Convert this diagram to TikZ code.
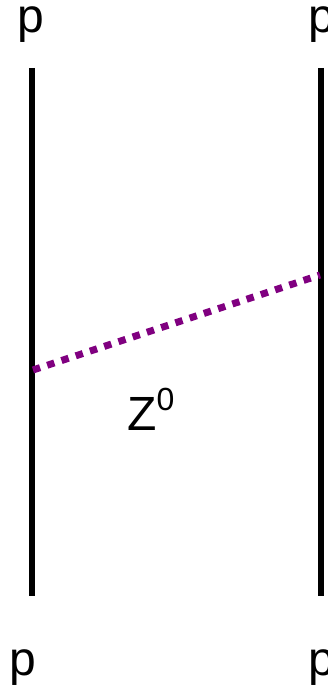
\documentclass[tikz,border=0pt]{standalone}
\usepackage{fontspec}
\setmainfont{Liberation Sans}
\definecolor{zpurple}{RGB}{128,0,128}
\usetikzlibrary{positioning}

\begin{document}
\begin{tikzpicture}[x=1pt,y=-1pt]
  \tikzset{
    proton/.style={line width=6.5pt,black},
    zboson/.style={line width=7pt,zpurple,dash pattern=on 7.5pt off 7.5pt},
    plabel/.style={font=\fontsize{48}{58}\selectfont,anchor=base,inner sep=0pt}
  }
  \useasboundingbox (0,0) rectangle (327,690);

  %% Proton labels
  \node[plabel] (ptl) at (31,33) {p};
  \node[plabel] (ptr) at (322,33) {p};
  \node[plabel] (pbl) at (23,675) {p};
  \node[plabel] (pbr) at (322,675) {p};

  %% Proton lines
  \coordinate (lt) at (32,68);
  \coordinate (lb) at (32,596);
  \coordinate (rt) at (321,68);
  \coordinate (rb) at (321,596);
  \draw[proton] (lt) -- (lb);
  \draw[proton] (rt) -- (rb);

  %% Z exchange
  \coordinate (va) at (33,370);
  \coordinate (vb) at (320,275);
  \draw[zboson] (va) -- (vb);
  \node[plabel,anchor=base west] (zlab) at (127,430)
    {Z\raisebox{20pt}{\fontsize{32}{32}\selectfont 0}};
\end{tikzpicture}
\end{document}
